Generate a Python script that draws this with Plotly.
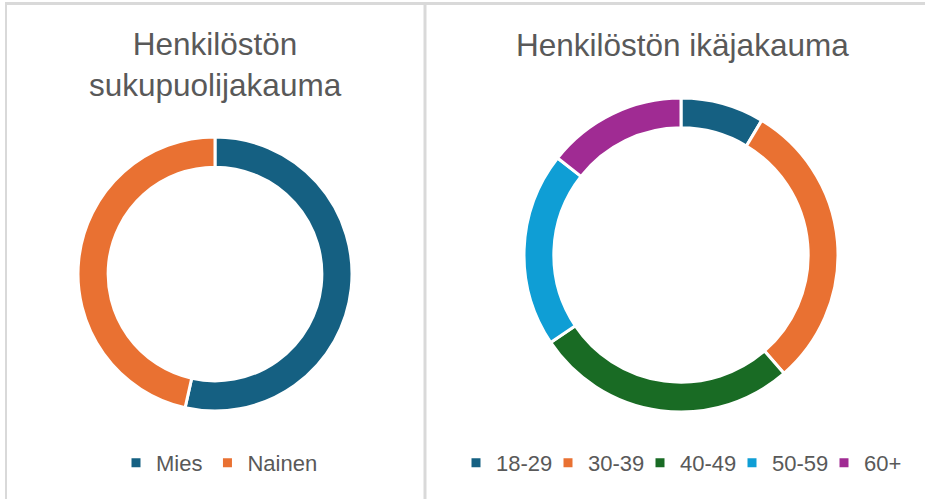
import plotly.graph_objects as go

W, H = 925, 499

gender_labels = ["Mies", "Nainen"]
gender_values = [53.5, 46.5]

age_labels = ["18-29", "30-39", "40-49", "50-59", "60+"]
age_values = [8.6, 30.0, 27.0, 20.0, 14.4]

title_left = "Henkilöstön<br>sukupuolijakauma"
title_right = "Henkilöstön ikäjakauma"

c_teal = "#156082"
c_orange = "#E97132"
c_green = "#196B24"
c_blue = "#0F9ED5"
c_purple = "#A02B93"
text_col = "#595959"
border_col = "#D9D9D9"

title_font = "Liberation Sans, Arial, sans-serif"
body_font = "Liberation Sans, Arial, sans-serif"


def px_x(x):
    return x / W


def px_y(y):
    return 1 - y / H


fig = go.Figure()

fig.add_trace(go.Pie(
    labels=gender_labels, values=gender_values, hole=0.78,
    sort=False, direction="clockwise", rotation=0,
    marker=dict(colors=[c_teal, c_orange], line=dict(color="white", width=3)),
    textinfo="none", hoverinfo="label+percent",
    domain=dict(x=[px_x(78), px_x(352)], y=[px_y(411), px_y(137)]),
    legend="legend", showlegend=True,
))

fig.add_trace(go.Pie(
    labels=age_labels, values=age_values, hole=0.81,
    sort=False, direction="clockwise", rotation=0,
    marker=dict(colors=[c_teal, c_orange, c_green, c_blue, c_purple],
                line=dict(color="white", width=3)),
    textinfo="none", hoverinfo="label+percent",
    domain=dict(x=[px_x(524), px_x(838)], y=[px_y(412), px_y(98)]),
    legend="legend2", showlegend=True,
))

fig.update_layout(
    width=W, height=H,
    margin=dict(l=0, r=0, t=0, b=0),
    paper_bgcolor="white", plot_bgcolor="white",
    font=dict(family=body_font, color=text_col, size=22),
    legend=dict(orientation="h", x=px_x(116), y=px_y(463), xanchor="left", yanchor="middle",
                font=dict(size=22, color=text_col, family=body_font),
                itemwidth=30, bgcolor="rgba(0,0,0,0)"),
    legend2=dict(orientation="h", x=px_x(456), y=px_y(463), xanchor="left", yanchor="middle",
                 font=dict(size=22, color=text_col, family=body_font),
                 itemwidth=30, entrywidth=47, entrywidthmode="pixels",
                 bgcolor="rgba(0,0,0,0)"),
    annotations=[
        dict(text=title_left, x=px_x(215), y=px_y(64), xref="paper", yref="paper",
             xanchor="center", yanchor="middle", showarrow=False,
             font=dict(family=title_font, size=31.5, color=text_col)),
        dict(text=title_right, x=px_x(682), y=px_y(45), xref="paper", yref="paper",
             xanchor="center", yanchor="middle", showarrow=False,
             font=dict(family=title_font, size=31.5, color=text_col)),
    ],
    shapes=[
        dict(type="line", xref="paper", yref="paper", x0=px_x(5), x1=1, y0=px_y(3.5), y1=px_y(3.5),
             line=dict(color=border_col, width=3)),
        dict(type="line", xref="paper", yref="paper", x0=px_x(6), x1=px_x(6), y0=0, y1=px_y(2),
             line=dict(color=border_col, width=2)),
        dict(type="line", xref="paper", yref="paper", x0=px_x(425), x1=px_x(425), y0=0, y1=px_y(2),
             line=dict(color=border_col, width=3)),
    ],
)

fig.write_html("out.html", config={"displayModeBar": False},
               post_script="document.body.style.margin='0';document.body.style.overflow='hidden';")
